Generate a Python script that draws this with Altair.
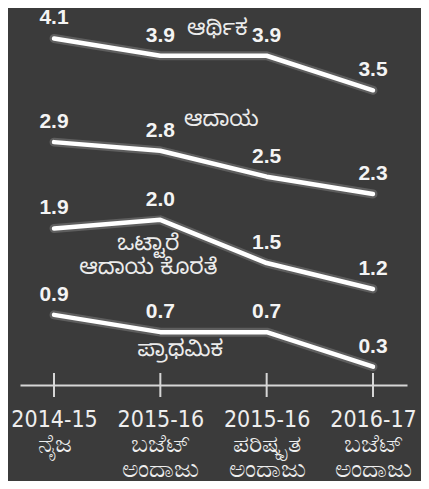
import altair as alt
import pandas as pd

# ---- data ----
categories = [
    "2014-15|ನೈಜ",
    "2015-16|ಬಜೆಟ್|ಅಂದಾಜು",
    "2015-16|ಪರಿಷ್ಕೃತ|ಅಂದಾಜು",
    "2016-17|ಬಜೆಟ್|ಅಂದಾಜು",
]
series_names = ["ಆರ್ಥಿಕ", "ಆದಾಯ", "ಒಟ್ಟಾರೆ\nಆದಾಯ ಕೊರತೆ", "ಪ್ರಾಥಮಿಕ"]
fiscal = [4.1, 3.9, 3.9, 3.5]
revenue = [2.9, 2.8, 2.5, 2.3]
effective = [1.9, 2.0, 1.5, 1.2]
primary = [0.9, 0.7, 0.7, 0.3]

all_series = [fiscal, revenue, effective, primary]

rows = []
for name, vals in zip(series_names, all_series):
    for c, v in zip(categories, vals):
        rows.append({"series": name, "category": c, "value": v})
df = pd.DataFrame(rows)
cats_df = pd.DataFrame({"category": categories})

BG = "#3b3b3b"
FG = "#f4f4f4"
NUM_FONT = "Liberation Sans, Arial, sans-serif"
AX_FONT = "Liberation Sans Narrow, DejaVu Sans Condensed, Liberation Sans, sans-serif"
KN_FONT = "Noto Sans Kannada, Noto Sans, sans-serif"

x_scale = alt.Scale(type="point", padding=0.32, domain=categories)

year_axis = alt.Axis(
    title=None,
    orient="bottom",
    labelExpr="split(datum.label, '|')[0]",
    ticks=False,
    tickSize=0,
    grid=False,
    domainColor="#d6d6d6",
    domainWidth=2,
    labelColor="#eeeeee",
    labelFont=AX_FONT,
    labelFontSize=23,
    labelPadding=23,
    labelAngle=0,
)
kn_axis = alt.Axis(
    title=None,
    orient="bottom",
    labelExpr="slice(split(datum.label, '|'), 1)",
    ticks=False,
    tickSize=0,
    grid=False,
    domain=False,
    labelColor="#eeeeee",
    labelFont=AX_FONT,
    labelFontSize=25,
    labelFontWeight="normal",
    labelLineHeight=25,
    labelPadding=46,
    labelAngle=0,
)

x_plain = alt.X("category:N", sort=categories, scale=x_scale, axis=None)
y_enc = alt.Y(
    "value:Q",
    scale=alt.Scale(domain=[0.088, 4.453], nice=False, zero=False),
    axis=None,
)

base = alt.Chart(df).encode(x=x_plain, y=y_enc)

glow = base.mark_line(color="#ffffff", strokeWidth=9, opacity=0.18,
                      strokeCap="round", strokeJoin="round").encode(detail="series:N")
lines = base.mark_line(color="#ffffff", strokeWidth=4.5,
                       strokeCap="round", strokeJoin="round").encode(
    x=alt.X("category:N", sort=categories, scale=x_scale, axis=year_axis),
    detail="series:N",
)

values = base.mark_text(
    font=NUM_FONT, fontSize=21, fontWeight="bold", color=FG,
    baseline="alphabetic", dy=-14,
).encode(text=alt.Text("value:Q", format=".1f"))

ticks = alt.Chart(cats_df).mark_rule(color="#d6d6d6", strokeWidth=2).encode(
    x=alt.X("category:N", sort=categories, scale=x_scale, axis=kn_axis),
    y=alt.value(365),
    y2=alt.value(389),
)


def name_layer(i, dx, dy):
    d = pd.DataFrame({
        "category": [categories[1]],
        "value": [all_series[i][1]],
        "name": [series_names[i]],
    })
    return alt.Chart(d).mark_text(
        font=KN_FONT, fontSize=22, color="#ececec",
        baseline="alphabetic", align="center", dx=dx, dy=dy,
        lineBreak="\n", lineHeight=24,
    ).encode(x=x_plain, y=y_enc, text="name:N")


names = [
    name_layer(0, 57, -21),
    name_layer(1, 61, -25),
    name_layer(2, -12, 30),
    name_layer(3, 20, 24),
]

chart = alt.layer(glow, lines, ticks, values, *names).resolve_axis(
    x="independent"
).properties(
    width=387,
    height=377,
    background=BG,
    padding={"left": 12, "top": 0, "right": 14, "bottom": 96},
    autosize=alt.AutoSizeParams(type="none"),
).configure_view(stroke=None)

chart.save("out.html", embed_options={"renderer": "svg", "actions": False})
